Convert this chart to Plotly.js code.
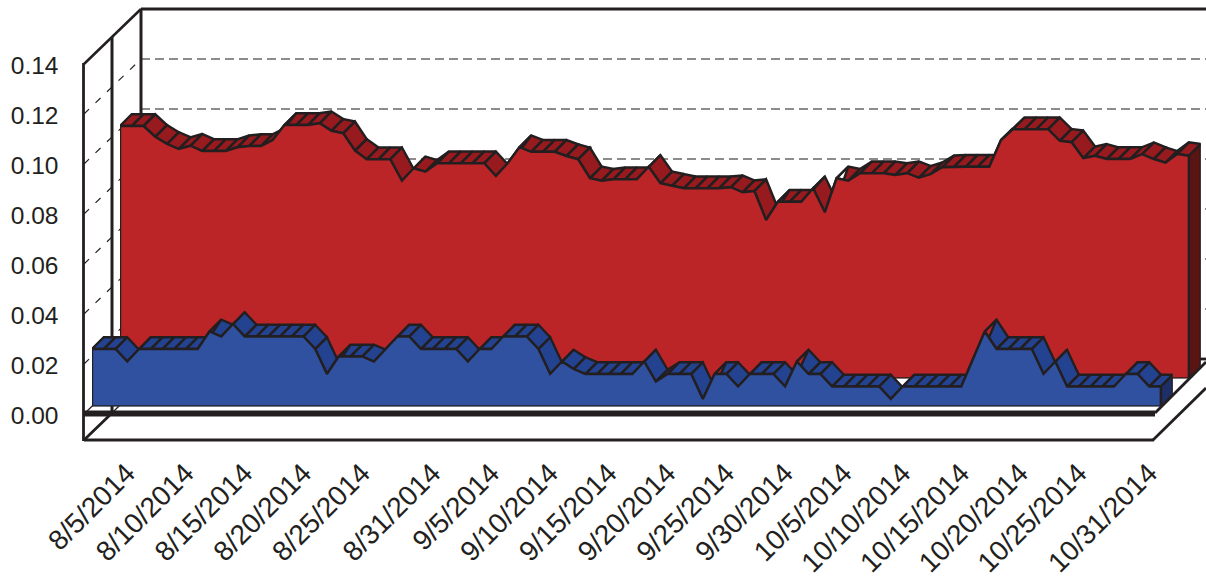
<!DOCTYPE html>
<html>
<head>
<meta charset="utf-8">
<script src="https://cdn.plot.ly/plotly-3.0.1.min.js"></script>
<style>html,body{margin:0;padding:0;background:#fff}#c{width:1206px;height:580px}</style>
</head>
<body>
<div id="c"></div>
<script>
const startDay = [2014, 7, 1];
const lowSeries = [
 .023,.023,.023,.018,.023,.023,.023,.023,.023,.023,
 .030,.028,.033,.028,.028,.028,.028,.028,.028,.023,
 .013,.020,.020,.020,.018,.023,.028,.028,.023,.023,
 .023,.023,.018,.023,.023,.028,.028,.028,.023,.013,
 .018,.015,.013,.013,.013,.013,.013,.018,.010,.013,
 .013,.013,.003,.013,.013,.008,.013,.013,.013,.008,
 .018,.013,.013,.008,.008,.008,.008,.008,.003,.008,
 .008,.008,.008,.008,.008,.019,.030,.023,.023,.023,
 .023,.013,.018,.008,.008,.008,.008,.008,.013,.013,
 .008,.008];
const highSeries = [
 .101,.101,.101,.0967,.0938,.0918,.0931,.091,.091,.091,
 .0925,.093,.093,.0954,.1014,.1014,.1014,.1021,.0991,.0981,
 .0911,.0877,.0877,.0877,.0791,.0841,.0827,.0861,.0861,.0861,
 .0861,.0861,.081,.0861,.0925,.0907,.0907,.0907,.089,.0877,
 .0801,.0791,.0797,.0797,.0797,.0847,.0781,.0771,.0761,.0761,
 .0761,.0761,.0765,.0745,.075,.0634,.0707,.0707,.0707,.0761,
 .0665,.0801,.0791,.0821,.0821,.0821,.0814,.0821,.0803,.0817,
 .0845,.0847,.0847,.0847,.0847,.0954,.0997,.0997,.0997,.0997,
 .0951,.0945,.0881,.0891,.0878,.0878,.0878,.0897,.0878,.0863,
 .0898,.0891];
const dateTicks = ['2014-08-05','2014-08-10','2014-08-15','2014-08-20','2014-08-25','2014-08-31','2014-09-05','2014-09-10','2014-09-15','2014-09-20','2014-09-25','2014-09-30','2014-10-05','2014-10-10','2014-10-15','2014-10-20','2014-10-25','2014-10-31'];
const dateLabels = ['8/5/2014','8/10/2014','8/15/2014','8/20/2014','8/25/2014','8/31/2014','9/5/2014','9/10/2014','9/15/2014','9/20/2014','9/25/2014','9/30/2014','10/5/2014','10/10/2014','10/15/2014','10/20/2014','10/25/2014','10/31/2014'];
const valueTicks = [0,.02,.04,.06,.08,.10,.12,.14];
const valueLabels = ['0.00','0.02','0.04','0.06','0.08','0.10','0.12','0.14'];

const W = 1206, H = 580, INK = '#231f20';
const DEPTH = 0.0047; // strip depth in value units: one day across, 11.75px up
const day = i => new Date(Date.UTC(startDay[0], startDay[1], startDay[2] + i)).toISOString().slice(0, 10);
const dates = lowSeries.map((_, i) => day(i));

function strip(vals) {
  const x = [], y = [];
  for (let i = 0; i < vals.length - 1; i++) {
    x.push(day(i), day(i + 1), day(i + 2), day(i + 1), day(i), null);
    y.push(vals[i], vals[i] + DEPTH, vals[i + 1] + DEPTH, vals[i + 1], vals[i], null);
  }
  return {x, y};
}
function series(vals, xa, ya, front, top, side) {
  const s = strip(vals), n = vals.length;
  const base = {xaxis: xa, yaxis: ya, mode: 'lines', fill: 'toself', hoverinfo: 'skip', showlegend: false};
  return [
    Object.assign({}, base, {x: s.x, y: s.y, fillcolor: top, line: {color: INK, width: 2.4}}),
    Object.assign({}, base, {x: [dates[0], ...dates, dates[n - 1], dates[0]], y: [0, ...vals, 0, 0], fillcolor: front, line: {color: INK, width: 2.4}}),
    Object.assign({}, base, {x: [dates[n - 1], day(n), day(n), dates[n - 1], dates[n - 1]],
      y: [vals[n - 1], vals[n - 1] + DEPTH, DEPTH, 0, vals[n - 1]], fillcolor: side, line: {color: INK, width: 2.4}})
  ];
}
const traces = [
  ...series(highSeries, 'x', 'y', '#bc2527', '#961a1e', '#5a1512'),
  ...series(lowSeries, 'x2', 'y2', '#3050a0', '#234290', '#1e2f68'),
  {x: [dates[0]], y: [0], xaxis: 'x3', yaxis: 'y3', mode: 'lines', hoverinfo: 'skip', showlegend: false}
];

function seg(x0, y0, x1, y1, width, color, dash) {
  return {type: 'line', xref: 'paper', yref: 'paper', layer: 'below',
    x0: x0 / W, x1: x1 / W, y0: 1 - y0 / H, y1: 1 - y1 / H,
    line: {width, color, dash: dash || 'solid'}};
}
const shapes = [];
for (let k = 0; k < 6; k++) {
  shapes.push(seg(141, 309 - 50 * k, W, 309 - 50 * k, 1.8, '#8c8c8c', '9px,5px'));
  shapes.push(seg(84, 364 - 50 * k, 141, 309 - 50 * k, 1.2, INK, '7px,9px'));
}
shapes.push(
  seg(84, 64, 141, 9, 2.5, INK),
  seg(112, 37, 112, 413, 3, INK),
  seg(141, 9, 141, 120, 3, INK),
  seg(141, 9, W, 9, 3, INK),
  seg(83.5, 63, 83.5, 441, 2.8, INK),
  seg(84, 413.5, 1155, 413.5, 6, INK),
  seg(84, 440, 1154, 440, 2.8, INK),
  seg(84, 440, 112, 413, 2.8, INK),
  seg(84, 414, 141, 359, 1.2, INK),
  seg(112, 413, 120, 405, 1.2, INK),
  seg(1153, 440, W, 388, 2.8, INK),
  seg(1155, 413, W, 362, 2.8, INK),
  seg(1190, 359, W, 359, 2.8, INK)
);

const xCommon = {type: 'date', showgrid: false, zeroline: false, showline: false, ticks: '', range: [day(0), day(92)]};
const yCommon = {showgrid: false, zeroline: false, showline: false, ticks: '', showticklabels: false};
const layout = {
  width: W, height: H, margin: {l: 0, r: 0, t: 0, b: 0}, paper_bgcolor: '#fff', plot_bgcolor: 'rgba(0,0,0,0)',
  font: {family: 'Liberation Sans, Arial, sans-serif', color: INK}, showlegend: false, shapes,
  xaxis: Object.assign({}, xCommon, {domain: [120 / W, 1200.75 / W], anchor: 'y', showticklabels: false}),
  yaxis: Object.assign({}, yCommon, {domain: [1 - 378.5 / H, 1], range: [0, 378.5 / 2500], anchor: 'x'}),
  xaxis2: Object.assign({}, xCommon, {domain: [92 / W, 1172.75 / W], anchor: 'free', position: 1 - 450 / H,
    tickmode: 'array', tickvals: dateTicks, ticktext: dateLabels, tickangle: -45, tickfont: {size: 28, color: INK}, ticklabelshift: -12}),
  yaxis2: Object.assign({}, yCommon, {domain: [1 - 406.5 / H, 1 - 6.5 / H], range: [0, 0.16], anchor: 'x2'}),
  xaxis3: Object.assign({}, xCommon, {domain: [84 / W, 1153 / W], anchor: 'y3', showticklabels: false}),
  yaxis3: {domain: [1 - 415.7 / H, 1 - 65.7 / H], range: [0, .14], anchor: 'free', position: 58.5 / W, side: 'left',
    showgrid: false, zeroline: false, showline: false, ticks: '', tickmode: 'array', tickvals: valueTicks, ticktext: valueLabels, tickfont: {size: 24.5, color: INK}}
};
Plotly.newPlot('c', traces, layout, {displayModeBar: false, staticPlot: true});
</script>
</body>
</html>
